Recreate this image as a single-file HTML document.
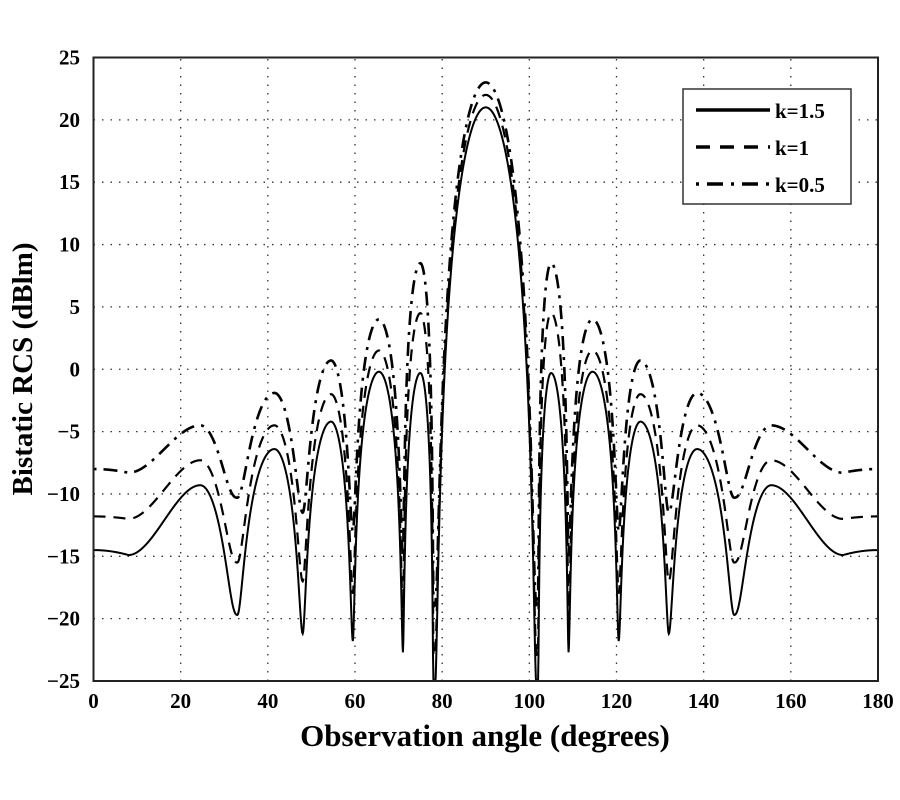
<!DOCTYPE html>
<html><head><meta charset="utf-8"><style>
html,body{margin:0;padding:0;background:#fff;}
svg{display:block;font-family:"Liberation Serif",serif;font-weight:bold;}
</style></head><body>
<svg id="s" width="900" height="800" viewBox="0 0 900 800" xmlns="http://www.w3.org/2000/svg">
<g id="grid" stroke="#333" stroke-width="1.3" stroke-dasharray="1.5,7"></g>
<g id="curves" fill="none" stroke="#000"></g>
<rect x="93.5" y="57.5" width="784.5" height="623.5" fill="none" stroke="#222" stroke-width="2"/>
<g id="ticks" font-size="21" fill="#000"></g>
<text x="485" y="746" font-size="31" text-anchor="middle">Observation angle (degrees)</text>
<text transform="translate(32,369) rotate(-90)" font-size="29" text-anchor="middle">Bistatic RCS (dBlm)</text>
<rect x="683" y="89" width="168" height="115" fill="#fff" stroke="#333" stroke-width="1.5"/>
<line x1="696" y1="110" x2="770" y2="110" stroke="#000" stroke-width="3.5"/>
<line x1="696" y1="147" x2="770" y2="147" stroke="#000" stroke-width="3.5" stroke-dasharray="14,10"/>
<line x1="696" y1="184" x2="770" y2="184" stroke="#000" stroke-width="3.5" stroke-dasharray="3,8,16,8"/>
<g font-size="21"><text x="775" y="118">k=1.5</text><text x="775" y="155">k=1</text><text x="775" y="192">k=0.5</text></g>
</svg>
<script>
var X0=93.5,X1=878,Y0=681,Y1=57.5;
function px(x){return X0+(X1-X0)*x/180;}
function py(d){return Y0-(Y0-Y1)*(d+25)/50;}
var ns="http://www.w3.org/2000/svg";
function el(p,t,a,txt){var e=document.createElementNS(ns,t);for(var k in a)e.setAttribute(k,a[k]);if(txt!=null)e.textContent=txt;document.getElementById(p).appendChild(e);}
for(var x=20;x<180;x+=20)el('grid','line',{x1:px(x),x2:px(x),y1:Y0,y2:Y1});
for(var d=-20;d<25;d+=5)el('grid','line',{x1:X0,x2:X1,y1:py(d),y2:py(d)});
for(var x=0;x<=180;x+=20)el('ticks','text',{x:px(x),y:708,'text-anchor':'middle'},x);
for(var d=-25;d<=25;d+=5)el('ticks','text',{x:80,y:py(d)+7,'text-anchor':'end'},d<0?'\u2212'+(-d):d);
function lobe(x,a,b,c,P,Fa,Fb,pw){
  var u,F;
  if(x<c){u=(c-x)/(c-a);F=Fa;}else{u=(x-c)/(b-c);F=Fb;}
  var A=Math.pow(10,P/20),f=Math.pow(10,F/20);
  var A2=Math.sqrt(Math.max(A*A-f*f,1e-12));
  var v=A2*Math.pow(Math.max(Math.cos(Math.PI/2*u),0),pw||1);
  return 20*Math.log10(Math.sqrt(v*v+f*f));
}
function curve(p){
  return function(x){
    if(x>90)x=180-x;
    if(x<=24.5){
      if(x<8) return p.e+(p.emin-p.e)*(x/8)*(x/8);
      var t=(x-8)/16.5; var s=t*t*(3-2*t);
      return p.emin+(p.p1-p.emin)*s;
    }
    if(x<=33) return lobe(x,16,33,24.5,p.p1,p.n[0],p.n[0],1.2);
    if(x<=48) return lobe(x,33,48,41.5,p.pk[0],p.n[0],p.n[1]);
    if(x<=59.5) return lobe(x,48,59.5,54.5,p.pk[1],p.n[1],p.n[2]);
    if(x<=71) return lobe(x,59.5,71,65.5,p.pk[2],p.n[2],p.n[3]);
    if(x<=78) return lobe(x,71,78,75,p.pk[3],p.n[3],p.n[4]);
    return lobe(x,78,102,90,p.m,p.n[4],p.n[4],2.2);
  };
}
var sets=[
 {e:-14.5,emin:-14.9,p1:-9.3,n:[-19.7,-21.2,-21.8,-22.7,-26],pk:[-6.4,-4.2,-0.2,-0.3],m:21,st:{'stroke-width':2}},
 {e:-11.8,emin:-12,p1:-7.3,n:[-15.5,-17,-18,-20,-23],pk:[-4.5,-2,1.5,4.5],m:22,st:{'stroke-width':2.2,'stroke-dasharray':'12,8'}},
 {e:-8,emin:-8.3,p1:-4.5,n:[-10.3,-11.5,-13,-15,-19],pk:[-1.9,0.7,4,8.5],m:23,st:{'stroke-width':2.6,'stroke-dasharray':'3,7,14,7'}}
];
sets.forEach(function(p){
  var f=curve(p),d='';
  for(var x=0;x<=180.001;x+=0.1){var v=Math.max(Math.min(f(x),25),-25);d+=(x===0?'M':'L')+px(x).toFixed(2)+','+py(v).toFixed(2);}
  var a={d:d};for(var k in p.st)a[k]=p.st[k];el('curves','path',a);
});
</script>
</body></html>
